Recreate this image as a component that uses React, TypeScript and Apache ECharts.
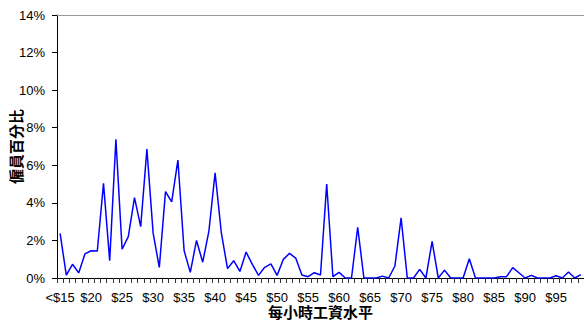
import React, { useEffect, useRef } from "react";
import * as echarts from "echarts";

const firstLabel = "<$15";
const startWage = 15;
const values: number[] = [
  2.38, 0.15, 0.73, 0.27, 1.28, 1.45, 1.44, 5.04, 0.92, 7.38,
  1.53, 2.2, 4.28, 2.73, 6.86, 2.4, 0.56, 4.6, 4.05, 6.28,
  1.46, 0.3, 2.0, 0.84, 2.5, 5.6, 2.42, 0.5, 0.92, 0.35,
  1.38, 0.73, 0.14, 0.57, 0.75, 0.14, 0.99, 1.31, 1.06, 0.16,
  0.07, 0.28, 0.16, 5.0, 0.07, 0.3, 0, 0, 2.7, 0,
  0, 0, 0.1, 0, 0.64, 3.2, 0, 0, 0.46, 0,
  1.95, 0, 0.42, 0, 0, 0, 1.03, 0, 0, 0,
  0, 0.07, 0.07, 0.55, 0.28, 0, 0.14, 0, 0, 0,
  0.12, 0, 0.32, 0, 0.18,
];
const categories: string[] = values.map((_, i) =>
  i === 0 ? firstLabel : "$" + (startWage + i)
);
const yTicks = { min: 0, max: 14, interval: 2 };
const xTitle = "每小時工資水平";
const yTitle = "僱員百分比";

export default function App() {
  const ref = useRef<HTMLDivElement>(null);
  useEffect(() => {
    document.body.style.margin = "0";
    const chart = echarts.init(ref.current!, null, { renderer: "svg" });
    const font = "'Liberation Sans', Arial, sans-serif";
    const cjk = "'Liberation Sans', 'Noto Sans CJK TC', sans-serif";
    chart.setOption({
      animation: false,
      grid: {
        left: 57,
        right: 0,
        top: 15,
        bottom: 44,
        containLabel: false,
        outerBoundsMode: "none",
      },
      xAxis: [
        {
          type: "category",
          data: categories,
          boundaryGap: true,
          name: xTitle,
          nameLocation: "middle",
          nameGap: 27,
          nameMoveOverlap: false,
          nameTextStyle: { fontFamily: cjk, fontWeight: "bold", fontSize: 15, color: "#000", lineHeight: 15 },
          axisLine: { lineStyle: { color: "#000", width: 1 } },
          axisTick: { show: true, interval: 0, length: 5, lineStyle: { color: "#333" } },
          axisLabel: { interval: 4, margin: 13, fontFamily: font, fontSize: 13, lineHeight: 13, color: "#000" },
          splitLine: { show: false },
        },
        {
          type: "category",
          data: categories,
          position: "top",
          axisLine: { lineStyle: { color: "#999", width: 1 } },
          axisTick: { show: false },
          axisLabel: { show: false },
        },
      ],
      yAxis: {
        type: "value",
        min: yTicks.min,
        max: yTicks.max,
        interval: yTicks.interval,
        name: yTitle,
        nameLocation: "middle",
        nameGap: 33,
        nameMoveOverlap: false,
        nameTextStyle: { fontFamily: cjk, fontWeight: "bold", fontSize: 15, color: "#000", lineHeight: 15 },
        axisLine: { show: true, lineStyle: { color: "#000", width: 1 } },
        axisTick: { show: true, length: 5, lineStyle: { color: "#000" } },
        axisLabel: { formatter: "{value}%", margin: 12, fontFamily: font, fontSize: 13, color: "#000" },
        splitLine: { show: false },
      },
      series: [
        {
          type: "line",
          data: values,
          symbol: "none",
          lineStyle: { color: "#0000FF", width: 1.5 },
          itemStyle: { color: "#0000FF" },
        },
      ],
    });
    return () => chart.dispose();
  }, []);
  return <div ref={ref} style={{ width: 584, height: 322 }} />;
}
